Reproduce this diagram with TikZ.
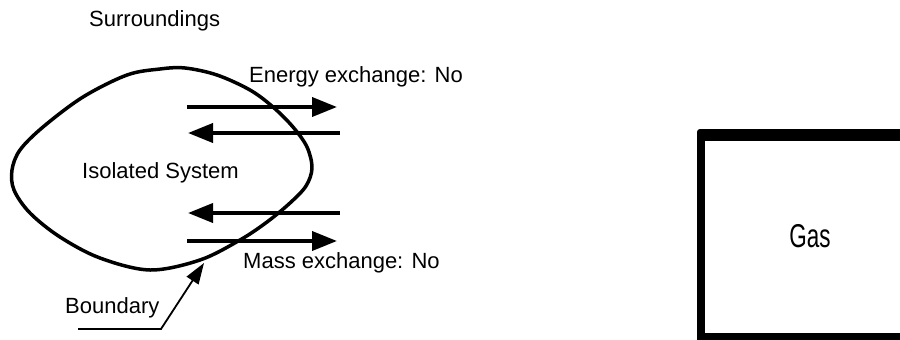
\documentclass[tikz,border=0pt]{standalone}
\usepackage{fontspec}
\usepackage{graphicx}
\setmainfont{Liberation Sans}
\usetikzlibrary{arrows.meta}
\begin{document}
\begin{tikzpicture}[x=1pt,y=-1pt,
  label/.style={anchor=base west,inner sep=0pt,font=\fontsize{22}{26}\selectfont},
  flow/.style={line width=3.8pt,-{Triangle[length=25pt,width=19pt]}},
  edge/.style={line width=3.5pt,line join=round}]
\useasboundingbox (0,0) rectangle (900,340);

% labels
\node[label] (surr) at (89,27) {Surroundings};
\node[label] (energy) at (249,82) {Energy exchange: No};
\node[label] (iso) at (82,178) {Isolated System};
\node[label] (mass) at (243,268) {Mass exchange: No};
\node[label] (bnd) at (65,313) {Boundary};

% system boundary
\draw[edge] plot[smooth cycle,tension=0.55] coordinates {
  (12,170) (20,150) (43,127) (83,97) (127,75) (160,69) (185,68)
  (217,75) (250,90) (273,107) (293,127) (307,147) (312,168)
  (306,186) (290,203) (267,222) (240,240) (200,260) (150,270)
  (100,258) (60,237) (30,213) (14,190)};

% exchange arrows
\coordinate (e1a) at (187,107); \coordinate (e1b) at (337,107);
\coordinate (e2a) at (340,133); \coordinate (e2b) at (188,133);
\coordinate (m1a) at (340,213); \coordinate (m1b) at (188,213);
\coordinate (m2a) at (187,241); \coordinate (m2b) at (337,241);
\draw[flow] (e1a) -- (e1b);
\draw[flow] (e2a) -- (e2b);
\draw[flow] (m1a) -- (m1b);
\draw[flow] (m2a) -- (m2b);

% pointer to the boundary
\coordinate (bl) at (78,329);
\coordinate (bk) at (161,329);
\coordinate (btip) at (204,263);
\draw[line width=1.8pt,-{Triangle[length=21pt,width=14pt]}] (bl) -- (bk) -- (btip);

% gas container
\fill[black,rounded corners=3pt] (697,129) rectangle (910,350);
\fill[white] (705,141) rectangle (910,333);
\node[inner sep=0pt,anchor=base,font=\fontsize{33}{36}\selectfont] (gas) at (810,247) {\scalebox{0.68}[1]{Gas}};
\end{tikzpicture}
\end{document}
